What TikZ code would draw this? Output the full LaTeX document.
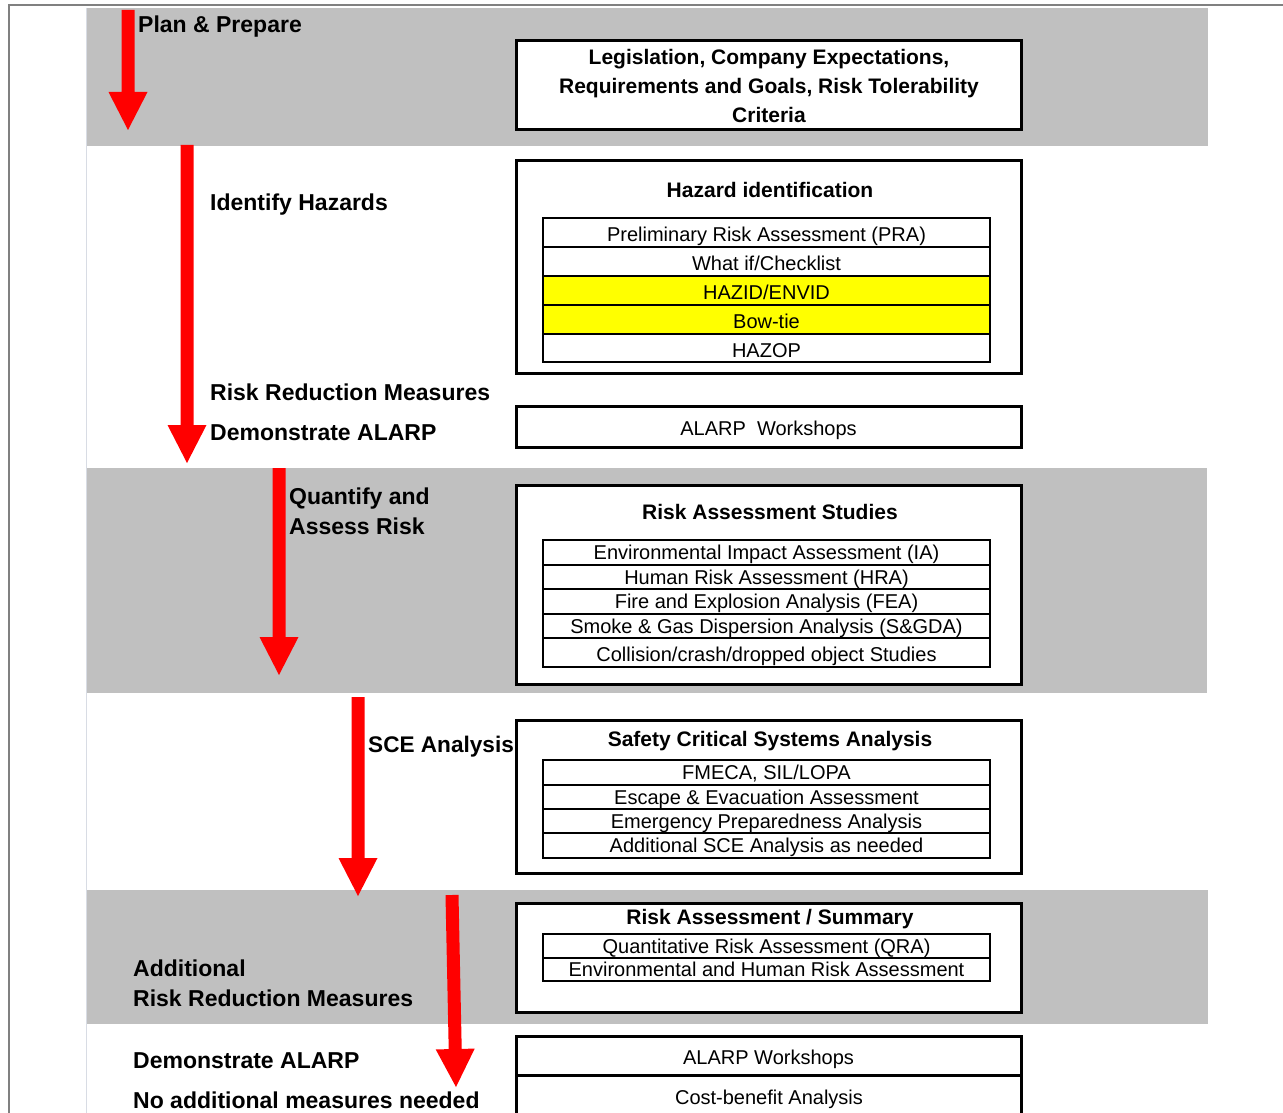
\documentclass[tikz,border=0pt]{standalone}
\usepackage{fontspec}
\setmainfont{Liberation Sans}
\usetikzlibrary{calc}
\definecolor{bandgray}{HTML}{C0C0C0}
\definecolor{arrowred}{HTML}{FF0000}
\definecolor{hiyellow}{HTML}{FFFF00}
\definecolor{framegray}{HTML}{808080}
\definecolor{edgegray}{HTML}{D8DCE4}
\newcommand\redarrow[2]{%
  \coordinate (hb) at ($(#2)!38pt!(#1)$);
  \fill[arrowred] ($(#1)!6.5pt!90:(#2)$) -- ($(hb)!6.5pt!90:(#2)$) -- ($(hb)!19.5pt!90:(#2)$) -- (#2)
     -- ($(hb)!19.5pt!-90:(#2)$) -- ($(hb)!6.5pt!-90:(#2)$) -- ($(#1)!6.5pt!-90:(#2)$) -- cycle;}
\begin{document}
\begin{tikzpicture}[x=1pt,y=-1pt,
  lbl/.style={anchor=west, inner sep=0pt, font=\fontsize{23}{30}\selectfont\bfseries, align=left},
  bigbox/.style={draw=black, line width=3pt, fill=white, minimum width=505pt, inner sep=0pt, font=\fontsize{20}{24}\selectfont},
  boxtitle/.style={inner sep=0pt, font=\fontsize{21}{29}\selectfont\bfseries, align=center},
  row/.style={draw=black, line width=1.2pt, fill=white, minimum width=447pt, inner sep=0pt, text height=18pt, text depth=0pt, font=\fontsize{20}{24}\selectfont},
  shortrow/.style={row, text height=14.5pt},
  hirow/.style={row, fill=hiyellow},
]
\useasboundingbox (0,0) rectangle (1283,1113);
\clip (0,0) rectangle (1283,1113);
% frame
\draw[framegray, line width=1.5pt] (9,1113) -- (9,5) -- (1283,5);
\draw[edgegray, line width=1pt] (86,8) -- (86,1113);
% bands
\fill[bandgray] (87,8) rectangle (1208,146);
\fill[bandgray] (87,468) rectangle (1207,693);
\fill[bandgray] (87,890) rectangle (1208,1024);

% arrows
\coordinate (a1s) at (128,10);  \coordinate (a1t) at (128,130);
\coordinate (a2s) at (187,145); \coordinate (a2t) at (187,463);
\coordinate (a3s) at (279,468); \coordinate (a3t) at (279,675);
\coordinate (a4s) at (358,697); \coordinate (a4t) at (358,896);
\coordinate (a5s) at (452,895); \coordinate (a5t) at (456,1087);
\redarrow{a1s}{a1t}
\redarrow{a2s}{a2t}
\redarrow{a3s}{a3t}
\redarrow{a4s}{a4t}
\redarrow{a5s}{a5t}

% left labels
\node[lbl] (lplan) at (138,27) {Plan \& Prepare};
\node[lbl] (lident) at (210,205) {Identify Hazards};
\node[lbl] (lrrm) at (210,392) {Risk Reduction Measures};
\node[lbl] (ldem1) at (210,433) {Demonstrate ALARP};
\node[lbl] (lquant) at (289,511) {Quantify and\\Assess Risk};
\node[lbl, font=\fontsize{22.6}{30}\selectfont\bfseries] (lsce) at (368,747) {SCE Analysis};
\node[lbl] (ladd) at (133,983) {Additional\\Risk Reduction Measures};
\node[lbl] (ldem2) at (133,1061) {Demonstrate ALARP};
\node[lbl] (lnoadd) at (133,1100) {No additional measures needed};

% Box A
\node[bigbox, minimum height=89pt] (boxA) at (768.5,85.5) {};
\node[boxtitle] (tA) at (769,85.5) {Legislation, Company Expectations,\\Requirements and Goals, Risk Tolerability\\Criteria};

% Box B
\node[bigbox, minimum height=212pt] (boxB) at (768.5,267) {};
\node[boxtitle] (tB) at (770,190) {Hazard identification};
\node[row, minimum height=29pt] (b1) at (766.5,232.5) {Preliminary Risk Assessment (PRA)};
\node[row, minimum height=29pt] (b2) at (766.5,261.5) {What if/Checklist};
\node[hirow, minimum height=29pt] (b3) at (766.5,290.5) {HAZID/ENVID};
\node[hirow, minimum height=29pt] (b4) at (766.5,319.5) {Bow-tie};
\node[row, minimum height=28pt] (b5) at (766.5,348) {HAZOP};

% Box C
\node[bigbox, minimum height=41pt, text height=18pt, text depth=0pt] (boxC) at (768.5,426.5) {ALARP\ \ Workshops};

% Box D
\node[bigbox, minimum height=199pt] (boxD) at (768.5,584.5) {};
\node[boxtitle] (tD) at (770,512) {Risk Assessment Studies};
\node[shortrow, minimum height=25pt] (d1) at (766.5,552.5) {Environmental Impact Assessment (IA)};
\node[shortrow, minimum height=24pt] (d2) at (766.5,577) {Human Risk Assessment (HRA)};
\node[shortrow, minimum height=25pt] (d3) at (766.5,601.5) {Fire and Explosion Analysis (FEA)};
\node[shortrow, minimum height=24pt] (d4) at (766.5,626) {Smoke \& Gas Dispersion Analysis (S\&GDA)};
\node[row, minimum height=29pt] (d5) at (766.5,652.5) {Collision/crash/dropped object Studies};

% Box E
\node[bigbox, minimum height=153pt] (boxE) at (768.5,796.5) {};
\node[boxtitle] (tE) at (770,741) {Safety Critical Systems Analysis};
\node[shortrow, minimum height=25pt] (e1) at (766.5,772.5) {FMECA, SIL/LOPA};
\node[shortrow, minimum height=24pt] (e2) at (766.5,797) {Escape \& Evacuation Assessment};
\node[shortrow, minimum height=24pt] (e3) at (766.5,821) {Emergency Preparedness Analysis};
\node[shortrow, minimum height=25pt] (e4) at (766.5,845.5) {Additional SCE Analysis as needed};

% Box F
\node[bigbox, minimum height=109pt] (boxF) at (768.5,957.5) {};
\node[boxtitle] (tF) at (770,919) {Risk Assessment / Summary};
\node[shortrow, minimum height=24pt] (f1) at (766.5,946) {Quantitative Risk Assessment (QRA)};
\node[shortrow, minimum height=23pt] (f2) at (766.5,969.5) {Environmental and Human Risk Assessment};

% Boxes G, H
\node[bigbox, minimum height=39pt, text height=18pt, text depth=0pt] (boxG) at (768.5,1055.5) {ALARP Workshops};
\node[bigbox, minimum height=60pt] (boxH) at (768.5,1105) {};
\node[inner sep=0pt, text height=18pt, text depth=0pt, font=\fontsize{20}{24}\selectfont] (tH) at (769,1095) {Cost-benefit Analysis};
\end{tikzpicture}
\end{document}
